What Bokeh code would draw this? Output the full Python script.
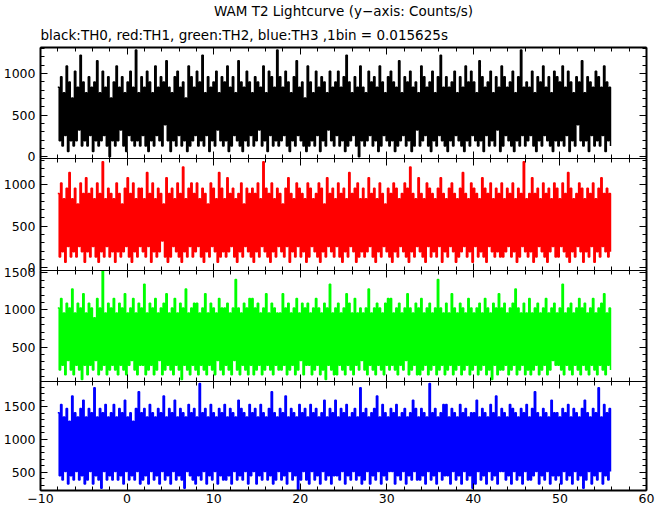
from bokeh.plotting import figure
from bokeh.models import Range1d, FixedTicker, LinearAxis, Title, CustomLabelingPolicy
from bokeh.layouts import column
from bokeh.embed import file_html
from bokeh.resources import INLINE

T_START = -8.0          # s, first plotted sample
SAMPLE_DT = 0.16        # s, spacing of plotted samples
BIN_SIZE = 0.015625     # s, one bin

th0_counts = [
    13,3,15,2,12,4,17,1,14,3,11,2,16,3,13,5,19,2,14,3,
    12,2,15,4,13,1,14,3,18,2,12,3,16,4,13,2,15,0,11,3,
    14,2,17,3,13,5,15,2,12,1,14,4,16,3,13,2,20,3,12,2,
    15,4,13,2,16,1,14,3,12,2,17,4,13,3,15,2,14,6,18,3,
    13,1,12,3,15,2,16,4,13,2,14,3,11,1,17,2,15,3,13,4,
    16,2,14,3,19,2,12,4,15,1,13,3,14,2,16,5,12,3,15,2,
    14,3,17,1,13,2,15,4,12,3,18,2,14,1,13,3,16,2,14,4,
    12,2,15,3,14,5,13,2,17,3,12,1,16,4,15,2,13,3,20,2,
    15,3,13,4,16,2,14,1,12,3,15,2,18,4,13,3,14,2,11,1,
    17,2,14,3,12,2,16,4,13,1,15,3,14,2,12,5,16,3,13,2,
    14,4,16,2,13,3,15,1,19,2,14,3,12,4,15,2,13,0,17,3,
    13,2,12,3,16,4,14,2,15,3,13,1,17,2,14,4,12,3,15,2,
    16,3,14,1,13,2,18,3,12,4,15,2,14,3,16,1,13,2,14,5,
    12,2,17,3,15,4,13,2,14,1,16,3,12,2,15,4,19,3,13,2,
    15,1,13,3,14,2,16,4,12,3,15,2,13,1,17,3,14,2,16,4,
    14,3,12,2,18,3,15,1,13,4,14,2,16,3,12,2,15,5,13,1,
    17,2,15,4,13,3,14,2,16,1,12,3,15,2,20,4,13,2,14,3,
    13,4,16,2,12,1,15,3,14,2,17,4,13,3,15,2,12,1,16,3,
    15,2,14,3,17,2,13,4,16,1,14,3,12,2,15,6,14,3,18,2,
    12,3,15,1,14,4,13,2,16,3,15,2,13,4,17,1,14,3,13,2,
]

th1_counts = [
    14,2,16,3,13,1,15,4,18,2,13,3,15,2,12,4,16,3,14,1,
    17,3,14,2,15,4,13,2,16,1,14,3,20,2,13,4,15,2,14,3,
    13,1,16,3,14,2,12,3,15,4,17,2,14,1,16,3,13,2,15,4,
    15,3,13,2,18,4,14,1,16,3,13,2,15,3,14,5,12,2,17,1,
    14,2,15,4,13,3,16,2,14,1,19,3,13,2,15,4,16,2,14,3,
    16,4,13,2,15,1,14,3,12,2,16,4,15,3,13,1,18,2,15,3,
    13,2,17,3,14,4,15,2,13,1,14,3,16,2,12,4,15,3,14,2,
    15,1,14,3,16,2,13,4,20,3,15,2,14,1,16,3,13,2,15,4,
    14,3,12,2,15,4,17,1,14,3,13,2,16,4,15,2,14,3,13,1,
    16,2,15,4,13,3,14,2,16,1,15,3,12,2,17,4,14,3,15,2,
    13,4,16,2,14,1,15,3,13,2,18,4,14,3,15,1,16,2,13,3,
    15,2,13,3,17,4,14,2,15,1,13,3,16,2,14,4,12,3,15,2,
    14,1,16,3,15,2,13,4,14,3,16,2,15,1,19,3,14,2,13,4,
    17,3,14,2,13,1,16,4,15,2,14,3,13,2,15,4,17,1,14,3,
    13,2,15,4,16,3,14,1,13,2,15,3,18,4,14,2,13,3,16,1,
    15,4,14,2,13,3,17,2,15,1,14,4,16,3,13,2,15,3,14,2,
    16,2,13,3,15,4,14,2,16,3,13,1,15,2,14,4,20,3,13,2,
    14,3,17,1,14,2,15,4,13,3,16,2,14,1,15,3,13,4,16,2,
    15,2,13,4,16,3,14,2,18,1,15,3,13,2,14,4,16,3,15,1,
    13,3,15,2,14,4,16,1,13,3,15,2,17,4,14,3,15,2,14,3,
]

th2_counts = [
    16,3,18,4,15,2,17,5,16,3,20,2,15,4,17,3,16,1,19,4,
    15,2,17,4,16,3,14,5,18,2,16,3,24,4,15,2,17,3,16,4,
    18,3,15,2,17,4,16,3,19,2,15,4,16,5,18,3,15,2,17,4,
    16,4,21,2,15,3,17,4,16,2,18,3,15,5,16,2,17,3,19,4,
    15,3,16,2,18,4,15,3,17,1,16,4,20,3,15,2,16,4,17,3,
    17,2,15,4,16,3,19,2,15,4,17,3,16,2,15,5,18,3,16,2,
    16,4,17,3,15,2,16,5,22,3,16,2,15,4,17,3,16,2,18,4,
    18,2,16,3,17,4,15,2,16,3,19,4,15,3,17,2,16,4,15,3,
    15,3,19,4,16,2,17,3,15,4,16,2,18,3,15,5,17,2,16,4,
    17,4,15,2,16,3,18,4,16,2,15,3,17,1,16,4,21,3,15,2,
    16,2,17,4,15,3,16,2,19,4,17,3,15,2,18,4,15,3,16,5,
    15,3,16,2,20,4,15,3,16,2,17,4,16,3,15,2,17,4,18,3,
    18,4,15,3,16,2,17,4,15,3,16,5,19,2,16,3,15,4,17,2,
    16,2,18,3,15,4,16,2,17,3,15,4,16,2,22,3,16,4,15,2,
    17,3,15,4,19,2,16,3,15,4,17,2,16,3,15,4,18,2,16,3,
    15,4,16,2,17,3,15,4,18,2,16,3,15,1,17,4,16,2,19,3,
    16,3,17,4,15,2,16,3,17,4,20,2,16,3,15,4,17,2,15,3,
    18,2,15,3,16,4,17,2,15,3,16,4,18,2,15,3,16,5,17,4,
    15,4,16,3,21,2,15,4,16,3,17,2,15,4,16,3,18,2,16,4,
    17,3,15,2,16,4,18,3,15,2,16,4,17,3,19,2,15,4,16,3,
]

th3_counts = [
    22,7,24,6,21,8,23,5,20,7,26,6,22,8,21,6,23,7,25,5,
    21,6,23,8,22,5,28,7,21,6,23,4,22,8,24,6,21,7,22,6,
    24,8,21,6,23,7,22,5,25,8,21,6,22,7,20,6,23,8,27,5,
    22,6,23,7,21,5,24,8,22,6,21,7,23,5,22,8,26,6,21,7,
    23,5,22,8,25,6,21,7,23,6,22,4,21,8,24,7,22,6,23,5,
    21,7,29,6,22,8,23,5,21,7,24,6,22,8,21,5,23,7,22,6,
    24,6,21,7,23,5,22,8,21,6,25,7,23,6,22,8,21,5,24,7,
    22,8,23,5,21,7,24,6,22,8,21,6,23,7,27,5,22,6,21,8,
    23,6,22,7,26,5,21,8,23,6,22,7,21,3,24,6,22,8,23,6,
    21,5,24,8,22,6,23,7,21,5,22,8,25,6,21,7,23,5,22,7,
    25,7,21,6,23,8,22,5,24,7,21,6,22,8,23,6,21,7,28,5,
    22,6,23,8,21,5,22,7,23,6,26,8,21,5,24,7,22,6,21,8,
    23,8,22,5,24,7,21,6,22,8,23,5,21,7,22,6,25,8,23,6,
    21,6,23,7,22,5,21,8,29,6,22,7,23,5,21,8,22,6,24,7,
    24,7,21,5,23,8,22,6,21,7,24,5,22,8,23,6,21,7,22,4,
    22,5,25,8,21,6,23,7,22,5,21,8,24,6,22,7,26,5,21,8,
    23,8,22,6,21,7,24,5,23,8,22,6,21,7,23,5,22,8,24,6,
    21,6,23,7,27,8,22,5,21,7,23,6,22,8,21,5,25,7,22,6,
    22,7,21,5,23,8,22,6,24,7,21,5,23,8,22,6,21,7,23,4,
    25,6,22,8,21,5,23,7,22,6,28,8,21,5,24,7,22,6,23,8,
]

channel_colors = ["#000000", "#ff0000", "#00ff00", "#0000ff"]
y_limits = [(-21, 1310), (-36, 1320), (37, 1530), (222, 1886)]
y_major_ticks = [[0, 500, 1000], [0, 500, 1000], [500, 1000, 1500], [500, 1000, 1500]]
y_minor_ticks = list(range(0, 2001, 100))
x_major_ticks = [-10, 0, 10, 20, 30, 40, 50, 60]
x_minor_ticks = list(range(-10, 61, 2))
x_tick_labels = {-10: "\u221210"}
frame_heights = [111, 112, 111, 109]

title_text = "WAM T2 Lightcurve (y\u2212axis: Counts/s)"
subtitle_text = "black:TH0, red:TH1, green:TH2, blue:TH3 ,1bin = 0.015625s"

FONT = "DejaVu Sans"
GAP = 8  # border kept round inner panels so edge labels are not clipped


def make_axis(ticks, minors, labels, lw, standoff=5, overrides=None):
    ax = LinearAxis(ticker=FixedTicker(ticks=ticks, minor_ticks=minors))
    ax.axis_line_color = "black"
    ax.axis_line_width = lw
    ax.major_tick_line_color = "black"
    ax.minor_tick_line_color = "black"
    ax.major_tick_in = 7
    ax.major_tick_out = 0
    ax.minor_tick_in = 4
    ax.minor_tick_out = 0
    if labels:
        ax.major_label_text_font = FONT
        ax.major_label_text_font_size = "12.5px"
        ax.major_label_text_color = "black"
        ax.major_label_standoff = standoff
        if overrides:
            ax.major_label_overrides = overrides
    else:
        ax.major_label_text_font_size = "0px"
        ax.major_label_standoff = 0
        ax.major_label_policy = CustomLabelingPolicy(code="return new Set()")
    return ax


series = [th0_counts, th1_counts, th2_counts, th3_counts]
figs = []
n_panels = len(series)
for k, counts in enumerate(series):
    rate = [c / BIN_SIZE for c in counts]
    t = [T_START + i * SAMPLE_DT for i in range(len(counts))]
    first, last = k == 0, k == n_panels - 1
    p = figure(
        frame_width=606, frame_height=frame_heights[k],
        x_range=Range1d(-10, 60), y_range=Range1d(*y_limits[k]),
        x_axis_location=None, y_axis_location=None,
        output_backend="svg", toolbar_location=None,
        min_border_left=37, min_border_right=13,
        min_border_top=0 if first else GAP,
        min_border_bottom=0 if last else GAP,
        margin=(0, 0, 0, 0) if first else (-2 * GAP, 0, 0, 0),
        background_fill_alpha=0, border_fill_alpha=0,
    )
    p.outline_line_color = None
    p.xgrid.grid_line_color = None
    p.ygrid.grid_line_color = None
    p.step(t, rate, mode="after", line_color=channel_colors[k], line_width=1.5)

    p.add_layout(make_axis(y_major_ticks[k], y_minor_ticks, True, 2), "left")
    p.add_layout(make_axis(y_major_ticks[k], y_minor_ticks, False, 2), "right")
    p.add_layout(make_axis(x_major_ticks, x_minor_ticks, False, 2 if first else 1), "above")
    p.add_layout(make_axis(x_major_ticks, x_minor_ticks, last, 2 if last else 1,
                           standoff=3, overrides=x_tick_labels), "below")

    if first:
        p.title.text = title_text
        p.title.align = "center"
        p.title.text_font = FONT
        p.title.text_font_size = "13.5px"
        p.title.text_font_style = "normal"
        p.title.text_color = "black"
        p.title.standoff = 1
        sub = Title(text=subtitle_text, align="left", text_font=FONT,
                    text_font_size="13.5px", text_font_style="normal",
                    text_color="black", standoff=10)
        p.add_layout(sub, "above")
    figs.append(p)

layout = column(*figs, spacing=0)
open("out.html", "w").write(file_html(layout, INLINE))
